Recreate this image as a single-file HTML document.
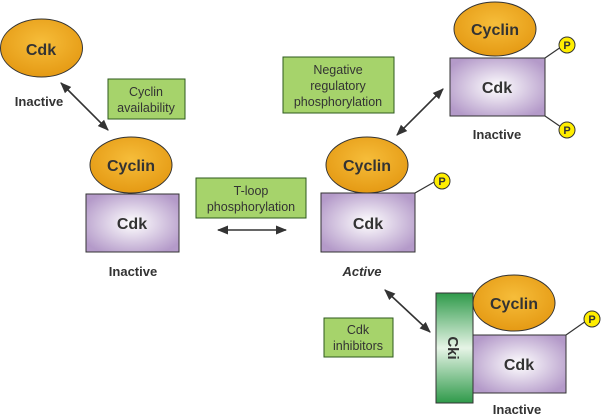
<!DOCTYPE html>
<html><head><meta charset="utf-8"><style>
html,body{margin:0;padding:0;background:#fff;}
svg{display:block;}
text{font-family:"Liberation Sans",Arial,sans-serif;}
</style></head><body>
<svg width="602" height="415" viewBox="0 0 602 415" xmlns="http://www.w3.org/2000/svg">
<defs>
<radialGradient id="og" cx="50%" cy="40%" r="60%"><stop offset="0" stop-color="#f6bd3a"/><stop offset="1" stop-color="#e59a14"/></radialGradient>
<radialGradient id="pg" cx="50%" cy="50%" r="60%"><stop offset="0" stop-color="#ffffff"/><stop offset="1" stop-color="#b49ac9"/></radialGradient>
<linearGradient id="gg" x1="0" y1="0" x2="0" y2="1"><stop offset="0" stop-color="#2f9a4a"/><stop offset="0.5" stop-color="#e6f4e6"/><stop offset="1" stop-color="#2f9a4a"/></linearGradient>
<marker id="ah" viewBox="0 0 10 10" refX="9" refY="5" markerWidth="7" markerHeight="7" orient="auto-start-reverse"><path d="M0,1 L10,5 L0,9 Z" fill="#333"/></marker>
</defs>
<g stroke="#333" stroke-width="1.6" fill="none" marker-start="url(#ah)" marker-end="url(#ah)">
<line x1="61" y1="83" x2="108" y2="130"/>
<line x1="218" y1="230" x2="286" y2="230"/>
<line x1="397" y1="135" x2="443" y2="89"/>
<line x1="385" y1="290" x2="430" y2="332"/>
</g>
<g fill="#a6d36b" stroke="#2d5a1e" stroke-width="1">
<rect x="108" y="79" width="77" height="40"/>
<rect x="196" y="178" width="110" height="40"/>
<rect x="283" y="57" width="111" height="56"/>
<rect x="324" y="318" width="69" height="39"/>
</g>
<g font-size="12.5" fill="#333" text-anchor="middle">
<text x="146" y="96">Cyclin</text><text x="146" y="112">availability</text>
<text x="251" y="195">T-loop</text><text x="251" y="211">phosphorylation</text>
<text x="338" y="74">Negative</text><text x="338" y="90">regulatory</text><text x="338" y="106">phosphorylation</text>
<text x="358" y="334">Cdk</text><text x="358" y="350">inhibitors</text>
</g>
<g stroke="#333" stroke-width="1.2">
<line x1="415" y1="193" x2="436" y2="181"/>
<line x1="545" y1="58" x2="561" y2="47"/>
<line x1="545" y1="116" x2="561" y2="127"/>
<line x1="566" y1="335" x2="586" y2="321"/>
</g>
<g fill="url(#pg)" stroke="#333" stroke-width="1">
<rect x="86" y="194" width="93" height="58"/>
<rect x="321" y="193" width="94" height="59"/>
<rect x="450" y="58" width="95" height="58"/>
<rect x="473" y="335" width="93" height="58"/>
</g>
<rect x="436" y="293" width="37" height="110" fill="url(#gg)" stroke="#333" stroke-width="1"/>
<g fill="url(#og)" stroke="#333" stroke-width="1">
<ellipse cx="41.5" cy="48" rx="41" ry="29"/>
<ellipse cx="131" cy="165" rx="41" ry="28"/>
<ellipse cx="367" cy="165" rx="41" ry="28"/>
<ellipse cx="495" cy="29" rx="41" ry="27"/>
<ellipse cx="514" cy="303" rx="41" ry="28"/>
</g>
<g fill="#ffee00" stroke="#333" stroke-width="1">
<circle cx="442" cy="181" r="8"/><circle cx="567" cy="45" r="8"/><circle cx="567" cy="130" r="8"/><circle cx="592" cy="319" r="8"/>
</g>
<g font-size="11" font-weight="bold" fill="#333" text-anchor="middle">
<text x="442" y="185">P</text><text x="567" y="49">P</text><text x="567" y="134">P</text><text x="592" y="323">P</text>
</g>
<g font-size="16" font-weight="bold" fill="#333" text-anchor="middle">
<text x="41" y="55">Cdk</text>
<text x="131" y="171">Cyclin</text>
<text x="132" y="229">Cdk</text>
<text x="367" y="171">Cyclin</text>
<text x="368" y="229">Cdk</text>
<text x="495" y="35">Cyclin</text>
<text x="497" y="93">Cdk</text>
<text x="514" y="309">Cyclin</text>
<text x="519" y="370">Cdk</text>
<text transform="translate(448,348) rotate(90)" font-size="15">Cki</text>
</g>
<g font-size="13" font-weight="bold" fill="#333" text-anchor="middle">
<text x="39" y="106">Inactive</text>
<text x="133" y="276">Inactive</text>
<text x="362" y="276" font-style="italic">Active</text>
<text x="497" y="139">Inactive</text>
<text x="517" y="414">Inactive</text>
</g>
</svg>
</body></html>
